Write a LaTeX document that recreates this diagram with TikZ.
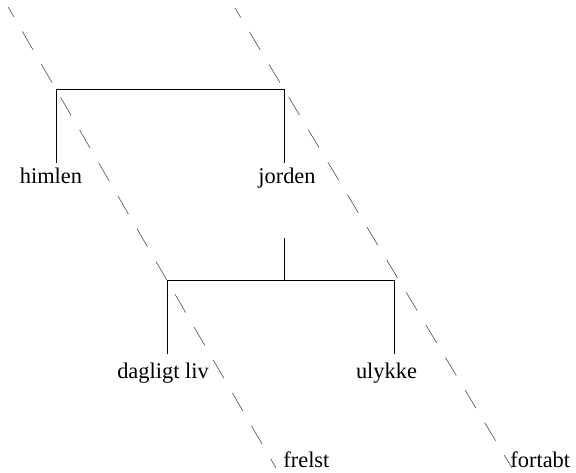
\documentclass[tikz,border=0pt]{standalone}
\usepackage{fontspec}
\setmainfont{Liberation Serif}
\begin{document}
\begin{tikzpicture}[x=0.5pt,y=-0.5pt,
  term/.style={inner xsep=0pt,inner ysep=#1,font=\fontsize{11.2}{13}\selectfont},
  term/.default=2pt,
  branch/.style={line width=0.5pt,black},
  divide/.style={line width=0.3pt,black!70,dash pattern=on 10.5pt off 8.5pt,dash phase=5pt}]
\useasboundingbox (0,0) rectangle (576,472);

% upper level
\node[term,anchor=base] (himlen) at (51,183) {himlen};
\node[term,anchor=base] (jorden) at (287,183) {jorden};
% lower level
\node[term=4pt,anchor=base] (dagligt) at (163,378) {dagligt liv};
\node[term=4pt,anchor=base] (ulykke) at (386.5,378) {ulykke};
% outcomes
\node[term,anchor=base west] (frelst) at (283,467) {frelst};
\node[term,anchor=base west] (fortabt) at (510,467) {fortabt};

% corners of the branchings
\coordinate (tl) at (56,89);
\coordinate (tr) at (284,89);
\coordinate (bl) at (167,280);
\coordinate (br) at (394,280);
\coordinate (stem) at (284,238);

\draw[branch] (himlen.north -| tl) -- (tl) -- (tr) -- (jorden.north -| tr);
\draw[branch] (dagligt.north -| bl) -- (bl) -- (br) -- (ulykke.north -| br);
\draw[branch] (stem) -- (stem |- bl);

% dividing lines
\coordinate (a1) at (8.3,7.3);
\coordinate (e1) at (276,468);
\coordinate (a2) at (235,8);
\coordinate (e2) at (512,468);
\draw[divide] (a1) -- (e1);
\draw[divide] (a2) -- (e2);
\end{tikzpicture}
\end{document}
